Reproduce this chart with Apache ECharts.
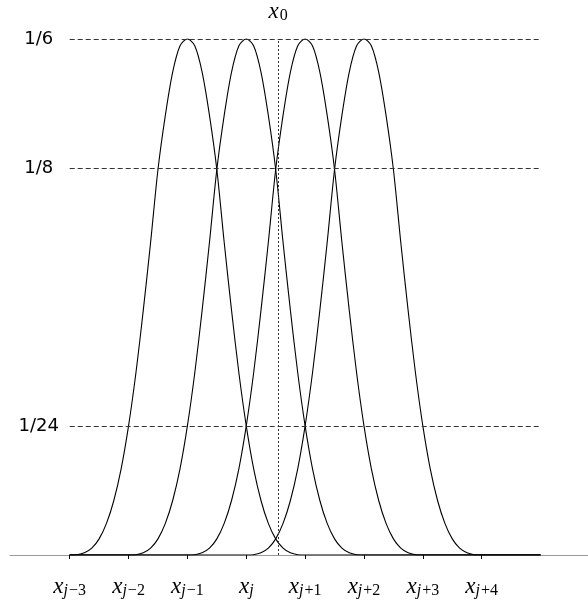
<!DOCTYPE html>
<html>
<head>
<meta charset="utf-8">
<script src="https://cdn.jsdelivr.net/npm/echarts@6/dist/echarts.min.js"></script>
<style>
  html, body { margin: 0; padding: 0; background: #fff; }
  #chart { width: 588px; height: 603px; }
</style>
</head>
<body>
<div id="chart"></div>
<script>
// one basis bump, in eighth-knot steps over its 4-knot support
var bumpT = [0, 0.125, 0.25, 0.375, 0.5, 0.625, 0.75, 0.875, 1, 1.125, 1.25, 1.375, 1.5, 1.625, 1.75, 1.875, 2,
             2.125, 2.25, 2.375, 2.5, 2.625, 2.75, 2.875, 3, 3.125, 3.25, 3.375, 3.5, 3.625, 3.75, 3.875, 4];
var bumpY = [0, 0.0001, 0.0007, 0.0022, 0.0052, 0.0102, 0.0176, 0.0279, 0.0417, 0.0588, 0.079, 0.101, 0.1245, 0.142, 0.156, 0.1645, 0.1667,
             0.1645, 0.156, 0.142, 0.1245, 0.101, 0.079, 0.0588, 0.0417, 0.0279, 0.0176, 0.0102, 0.0052, 0.0022, 0.0007, 0.0001, 0];
// the four curves start at knots x_{j-3} .. x_j  (x_{j-3} = 0)
var curveStarts = [0, 1, 2, 3];
var domain = [0, 8];

var knots = [0, 1, 2, 3, 4, 5, 6, 7];
var knotSubs = ['−3', '−2', '−1', '', '+1', '+2', '+3', '+4'];
var levels = [1 / 6, 1 / 8, 1 / 24];
var levelLabels = ['1/6', '1/8', '1/24'];
var x0 = 3.54;

function curveData(start) {
  var d = [];
  if (start > domain[0]) d.push([domain[0], 0]);
  bumpT.forEach(function (t, i) { d.push([start + t, bumpY[i]]); });
  if (start + 4 < domain[1]) d.push([domain[1], 0]);
  return d;
}

var chart = echarts.init(document.getElementById('chart'));

var curves = curveStarts.map(function (s) {
  return {
    type: 'line',
    data: curveData(s),
    smooth: 0.3,
    showSymbol: false,
    silent: true,
    lineStyle: { color: '#000', width: 1.1 },
    z: 3
  };
});

var subRich = {
  x: { fontFamily: 'Liberation Serif', fontStyle: 'italic', fontSize: 23, lineHeight: 24, verticalAlign: 'middle', color: '#000' },
  j: { fontFamily: 'Liberation Serif', fontStyle: 'italic', fontSize: 16, lineHeight: 16, verticalAlign: 'bottom', color: '#000' },
  n: { fontFamily: 'Liberation Serif', fontSize: 16, lineHeight: 16, verticalAlign: 'bottom', color: '#000', padding: [0, 0, 0, 1] }
};

// dashed level lines, their labels, and the dotted x_0 line
curves[0].markLine = {
  silent: true,
  symbol: ['none', 'none'],
  animation: false,
  data: levels.map(function (v, i) {
    return [
      { coord: [domain[0], v], lineStyle: { color: '#333', type: [5, 3], width: 1 },
        label: { show: true, position: 'start', distance: 31, align: 'center', formatter: levelLabels[i],
                 fontFamily: 'DejaVu Sans', fontSize: 18, color: '#000' } },
      { coord: [domain[1], v] }
    ];
  }).concat([[
    { coord: [x0, 0], lineStyle: { color: '#333', type: [2, 2], width: 1 },
      label: { show: true, position: 'end', distance: 15, formatter: '{x|x}{n|0}', rich: subRich } },
    { coord: [x0, levels[0]] }
  ]])
};

chart.setOption({
  animation: false,
  backgroundColor: '#fff',
  grid: { left: 10, right: 0, top: 39, bottom: 48 },
  xAxis: {
    type: 'value',
    min: -1.014,
    max: 8.806,
    axisLine: { show: true, lineStyle: { color: '#999', width: 1 } },
    axisTick: { show: true, customValues: knots, length: 4, inside: false, lineStyle: { color: '#000' } },
    axisLabel: {
      show: true,
      customValues: knots,
      margin: 20,
      formatter: function (v) {
        var i = knots.indexOf(v);
        return '{x|x}{j|j}' + (knotSubs[i] ? '{n|' + knotSubs[i] + '}' : '');
      },
      rich: subRich
    },
    splitLine: { show: false }
  },
  yAxis: {
    type: 'value',
    min: 0,
    max: 1 / 6,
    show: false
  },
  series: curves
});
</script>
</body>
</html>
